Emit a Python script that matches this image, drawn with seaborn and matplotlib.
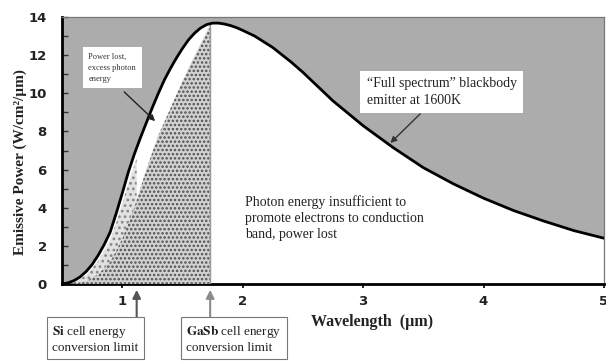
import numpy as np
import pandas as pd
import matplotlib
matplotlib.use("Agg")
import matplotlib.pyplot as plt
import seaborn as sns

# ---- data ----
wavelength_um = [0.5, 0.55, 0.6, 0.65, 0.7, 0.75, 0.8, 0.85, 0.9, 0.95, 1.0, 1.05, 1.1, 1.15, 1.2,
                 1.25, 1.3, 1.35, 1.4, 1.45, 1.5, 1.55, 1.6, 1.65, 1.7, 1.75, 1.8, 1.85, 1.9, 1.95, 2.0,
                 2.1, 2.25, 2.4, 2.5, 2.75, 3.0, 3.25, 3.5, 3.75, 4.0, 4.25, 4.5, 4.75, 5.0]
emissive_power = [0.0, 0.06, 0.18, 0.37, 0.65, 1.02, 1.5, 2.06, 2.72, 3.7, 4.75, 5.85, 6.8, 7.65, 8.45,
                  9.25, 10.0, 10.7, 11.3, 11.85, 12.35, 12.8, 13.15, 13.42, 13.6, 13.68, 13.68, 13.63, 13.55, 13.44, 13.3,
                  13.0, 12.4, 11.65, 11.1, 9.6, 8.3, 7.15, 6.1, 5.25, 4.5, 3.85, 3.3, 2.8, 2.4]

gasb_wavelength = [0.5, 0.6, 0.7, 0.8, 0.9, 1.0, 1.1, 1.2, 1.3, 1.4, 1.5, 1.6, 1.7, 1.73]
gasb_converted = [0.0, 0.03, 0.15, 0.5, 1.15, 2.35, 4.0, 6.0, 7.8, 9.2, 10.65, 11.95, 13.2, 13.6]

si_wavelength = [0.5, 0.6, 0.7, 0.8, 0.9, 0.95, 1.0, 1.05, 1.1, 1.12]
si_converted = [0.0, 0.1, 0.45, 1.2, 2.3, 3.2, 4.2, 5.25, 6.2, 6.6]

si_limit = 1.12
gasb_limit = 1.73

x_ticks = [1, 2, 3, 4, 5]
y_ticks = [0, 2, 4, 6, 8, 10, 12, 14]

# ---- style ----
sns.set_theme(style="white")
plt.rcParams["font.family"] = ["Liberation Serif", "DejaVu Serif"]
plt.rcParams["mathtext.fontset"] = "stix"
plt.rcParams["hatch.linewidth"] = 1.2

fig = plt.figure(figsize=(6.06, 3.61), dpi=100)
ax = fig.add_axes([0.1023, 0.2133, 0.8944, 0.7396])
ax.set_facecolor("#acacac")

df = pd.DataFrame({"wl": wavelength_um, "p": emissive_power})

# white area under the full blackbody curve
ax.fill_between(df["wl"], 0, df["p"], color="white", zorder=1)
# Si converted region (lighter stipple)
ax.fill_between(si_wavelength, 0, si_converted, facecolor="#e2e2e2", edgecolor="#888888",
                hatch="...", linewidth=0, zorder=2)
# GaSb converted region (dense stipple)
ax.fill_between(gasb_wavelength, 0, gasb_converted, facecolor="#d2d2d2", edgecolor="#505050",
                hatch="....", linewidth=0, zorder=3)
# GaSb limit line
ax.plot([gasb_limit, gasb_limit], [0, gasb_converted[-1]], color="#9a9a9a", lw=1.0, zorder=4)

sns.lineplot(data=df, x="wl", y="p", ax=ax, color="black", lw=2.0, zorder=5)

ax.set_xlim(0.5, 5.0)
ax.set_ylim(0, 14)
ax.set_xticks(x_ticks)
ax.set_yticks(y_ticks)
ax.set_yticks(range(0, 15), minor=True)
ax.tick_params(axis="x", which="major", direction="inout", length=6, width=1.2, pad=5,
               labelsize=9.5, bottom=True, color="black")
ax.tick_params(axis="y", which="both", direction="in", length=4, width=1.0, pad=11,
               labelsize=9.5, left=True, color="#333333")
for lab in ax.get_xticklabels() + ax.get_yticklabels():
    lab.set_fontfamily("DejaVu Sans")
    lab.set_fontweight("bold")
    lab.set_color("#222222")

for s in ["left", "bottom"]:
    ax.spines[s].set_color("black")
    ax.spines[s].set_linewidth(2.0)
for s in ["top", "right"]:
    ax.spines[s].set_color("#777777")
    ax.spines[s].set_linewidth(0.9)

ax.set_xlabel("Wavelength  (µm)", fontsize=11.5, fontweight="bold", color="#222222")
ax.set_ylabel("Emissive Power (W/cm²/µm)", fontsize=11, fontweight="bold", color="#222222")
ax.xaxis.set_label_coords(0.572, -0.142)
ax.xaxis.label.set_va("center")
ax.yaxis.set_label_coords(-0.0775, 0.457)
ax.yaxis.label.set_va("center")

# ---- annotations ----
ax.text(0.72, 12.1, "Power lost,\nexcess photon\nenergy", fontsize=6, va="top", ha="left",
        color="#333333", zorder=7, linespacing=1.45,
        bbox=dict(boxstyle="square,pad=0.7", facecolor="white", edgecolor="none"))
ax.annotate("", xy=(1.29, 8.44), xytext=(1.0, 10.17),
            arrowprops=dict(arrowstyle="-|>", color="#222222", lw=1.0, mutation_scale=9),
            zorder=7)

ax.text(3.03, 10.85, "\u201cFull spectrum\u201d blackbody\nemitter at 1600K", fontsize=10,
        va="top", ha="left", color="#222222", zorder=7, linespacing=1.38,
        bbox=dict(boxstyle="square,pad=0.45", facecolor="white", edgecolor="none"))
ax.annotate("", xy=(3.21, 7.29), xytext=(3.49, 9.02),
            arrowprops=dict(arrowstyle="-|>", color="#333333", lw=1.0, mutation_scale=9),
            zorder=7)

ax.text(2.02, 4.65, "Photon energy insufficient to\npromote electrons to conduction\nband, power lost",
        fontsize=10, va="top", ha="left", color="#222222", linespacing=1.3, zorder=7)

# bottom boxes with arrows
fig.text(52 / 606, 1 - 324 / 361, r"$\mathbf{Si}$ cell energy" + "\nconversion limit", fontsize=9.5,
         va="top", ha="left", color="#222222", linespacing=1.2,
         bbox=dict(boxstyle="square,pad=0.4", facecolor="white", edgecolor="#777777", lw=0.8))
fig.text(186 / 606, 1 - 324 / 361, r"$\mathbf{GaSb}$ cell energy" + "\nconversion limit", fontsize=9.5,
         va="top", ha="left", color="#222222", linespacing=1.2,
         bbox=dict(boxstyle="square,pad=0.4", facecolor="white", edgecolor="#777777", lw=0.8))

for lim, col in [(si_limit, "#555555"), (gasb_limit, "#8c8c8c")]:
    ax.annotate("", xy=(lim, -0.022), xycoords=("data", "axes fraction"),
                xytext=(lim, 1 - 319 / 361), textcoords=("data", "figure fraction"),
                arrowprops=dict(arrowstyle="-|>", color=col, lw=1.5, mutation_scale=12,
                                shrinkA=0, shrinkB=0),
                annotation_clip=False)

fig.savefig("out.png", dpi=100)
